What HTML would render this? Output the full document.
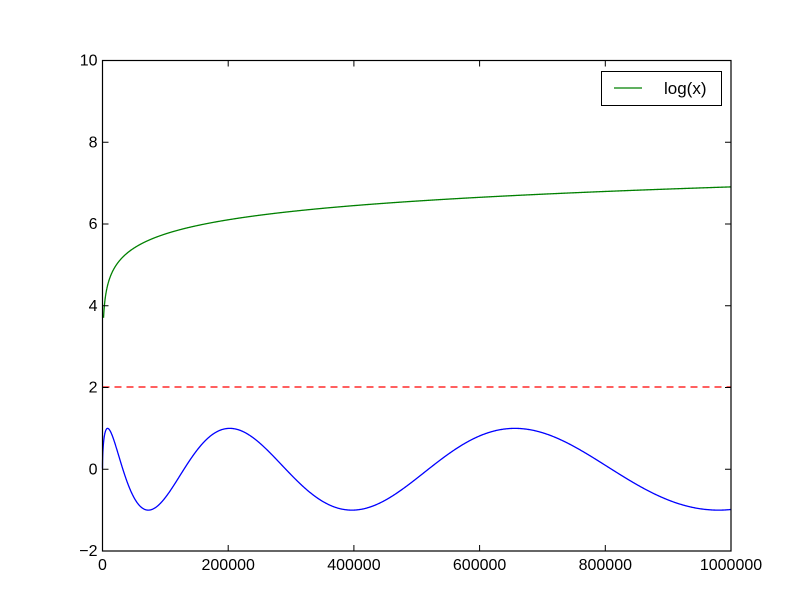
<!DOCTYPE html>
<html><head><meta charset="utf-8"><style>
body{margin:0;background:#fff;}
svg{display:block;font-family:"Liberation Sans",sans-serif;}
</style></head><body>
<svg id="s" width="812" height="612" viewBox="0 0 812 612">
<rect width="812" height="612" fill="#fff"/>
<path id="blue" fill="none" stroke="#0000ff" stroke-width="1.3"/>
<path id="green" fill="none" stroke="#008000" stroke-width="1.3"/>
<line x1="102.5" y1="387" x2="731" y2="387" stroke="#ff0000" stroke-width="1.2" stroke-dasharray="7,5"/>
<rect x="102.5" y="60.5" width="628.5" height="490.5" fill="none" stroke="#000" stroke-width="1.2"/>
<g id="ticks" stroke="#000" stroke-width="1"></g>
<g font-size="16" fill="#000" id="labels"></g>
<rect x="601.5" y="71.5" width="120" height="34" fill="#fff" stroke="#000" stroke-width="1"/>
<line x1="614" y1="88" x2="642" y2="88" stroke="#008000" stroke-width="1.3"/>
<text x="664" y="94" font-size="17">log(x)</text>
</svg>
<script>
var X0=102.5,X1=731,Y0=551,Y1=60.5;
function px(x){return X0+(X1-X0)*x/1e6;}
function py(y){return Y0+(Y1-Y0)*(y+2)/12;}
var b="",g="";
for(var i=0;i<=1600;i++){
 var x=Math.pow(i/1600,2)*1e6; if(x<1)x=1;
 var yb=Math.sin(Math.sqrt(x)*Math.PI/180);
 var yg=Math.log(x)/2;
 b+=(i?"L":"M")+px(x).toFixed(2)+" "+py(yb).toFixed(2);
 if(yg>=3.7) g+=(g?"L":"M")+px(x).toFixed(2)+" "+py(yg).toFixed(2);
}
document.getElementById("blue").setAttribute("d",b);
document.getElementById("green").setAttribute("d",g);
var t="",l="";
for(var k=0;k<=5;k++){var x=px(k*2e5);
 t+='<line x1="'+x+'" y1="'+Y0+'" x2="'+x+'" y2="'+(Y0-6)+'"/><line x1="'+x+'" y1="'+Y1+'" x2="'+x+'" y2="'+(Y1+6)+'"/>';
 l+='<text x="'+x+'" y="570" text-anchor="middle">'+(k*200000)+'</text>';}
for(var v=-2;v<=10;v+=2){var y=py(v);
 t+='<line x1="'+X0+'" y1="'+y+'" x2="'+(X0+6)+'" y2="'+y+'"/><line x1="'+X1+'" y1="'+y+'" x2="'+(X1-6)+'" y2="'+y+'"/>';
 l+='<text x="'+(X0-5)+'" y="'+(y+5)+'" text-anchor="end">'+(v<0?'\u2212'+(-v):v)+'</text>';}
document.getElementById("ticks").innerHTML=t;
document.getElementById("labels").innerHTML=l;
</script>
</body></html>
